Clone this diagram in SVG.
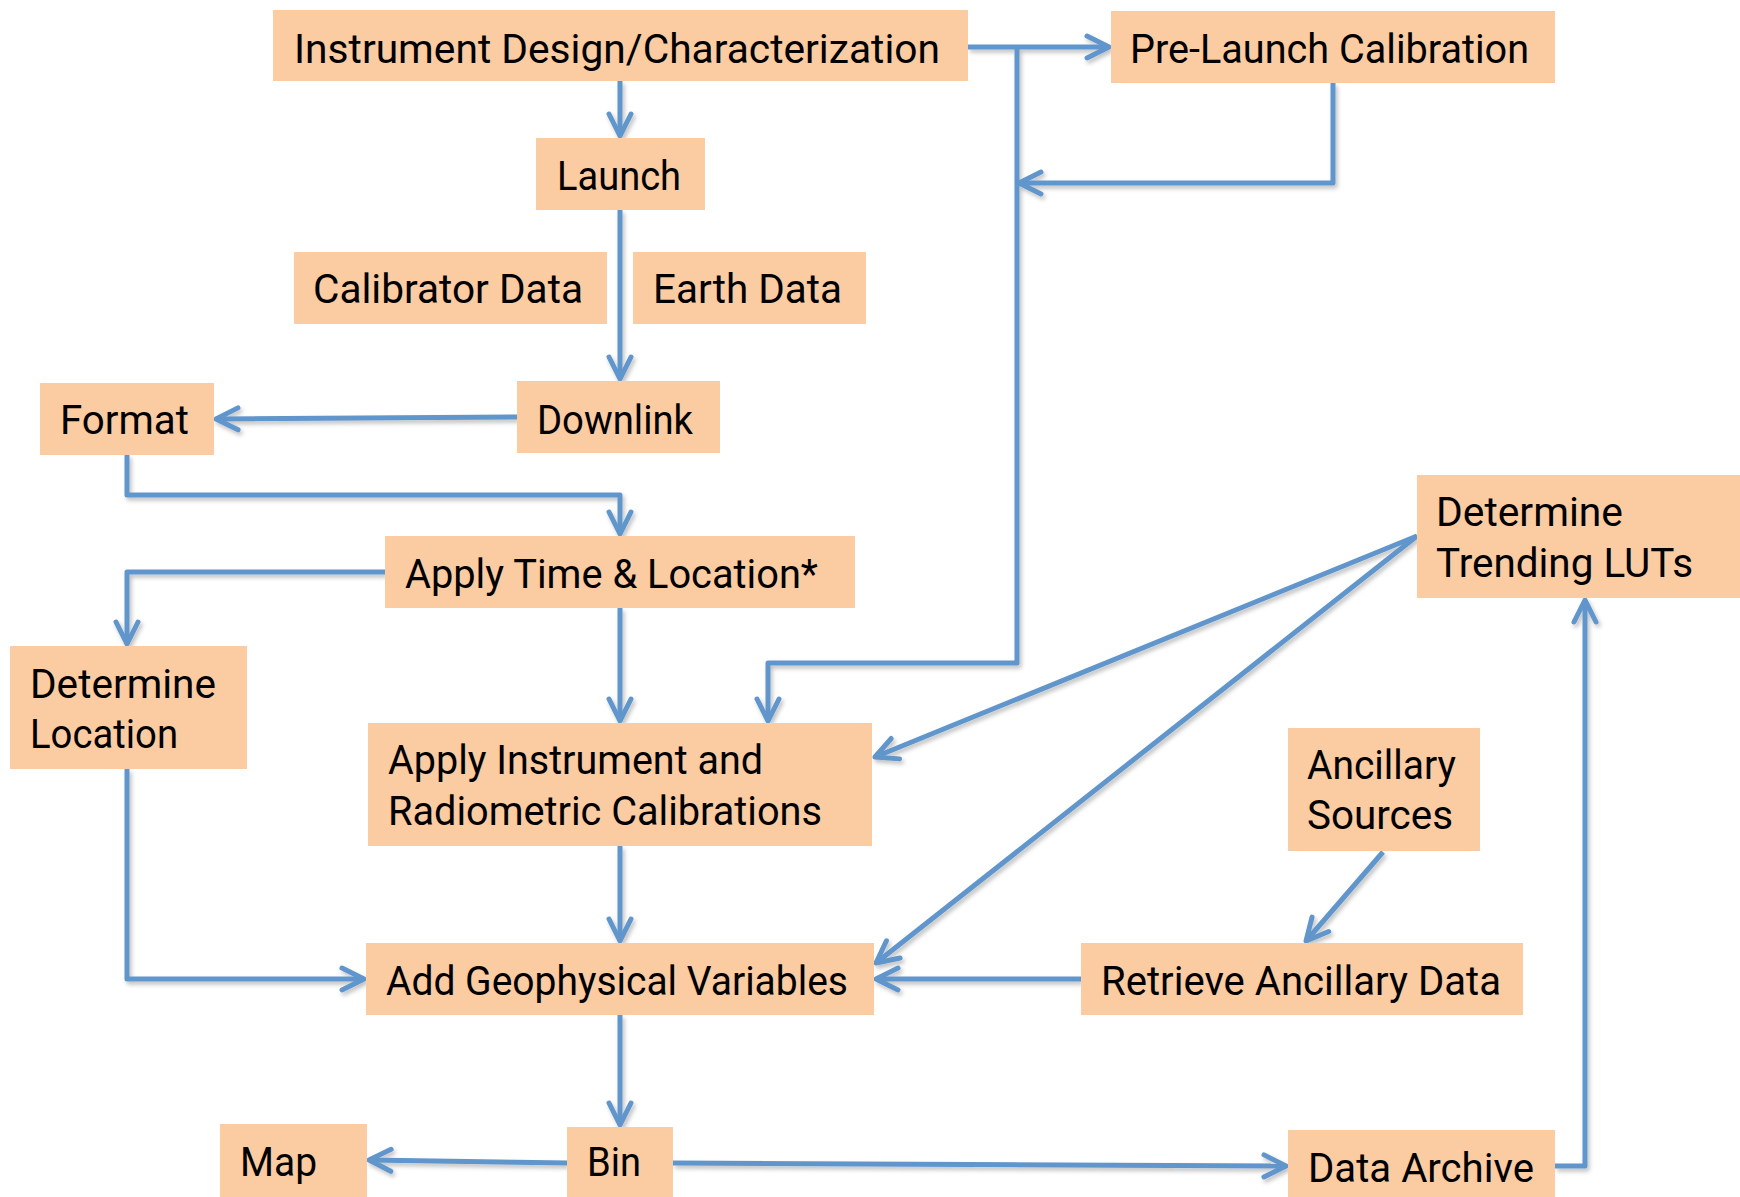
<svg xmlns="http://www.w3.org/2000/svg" width="1740" height="1197" viewBox="0 0 1740 1197">
<style>
.box{fill:#FBCBA2;}
.t{font-family:Roboto,"Liberation Sans",sans-serif;font-size:40px;fill:#000;}
.c{fill:none;stroke:#6196CB;stroke-width:5;stroke-linejoin:round;}
.a{marker-end:url(#arr);}
</style>
<defs>
<marker id="arr" markerUnits="userSpaceOnUse" markerWidth="40" markerHeight="40" viewBox="-30 -20 40 40" refX="0" refY="0" orient="auto">
<path d="M-22,-11 L0,0 L-22,11" fill="none" stroke="#6196CB" stroke-width="5" stroke-linecap="round" stroke-linejoin="round"/>
</marker>
<filter id="sh" x="-5%" y="-5%" width="110%" height="110%">
<feDropShadow dx="2" dy="3" stdDeviation="2" flood-color="#000" flood-opacity="0.25"/>
</filter>
</defs>
<rect width="1740" height="1197" fill="#fff"/>
<g id="connectors" filter="url(#sh)">
<path class="c a" d="M620,81 L620,136"/>
<path class="c a" d="M968,47 L1109,47"/>
<path class="c a" d="M1017,47 L1017,663 L768,663 L768,721"/>
<path class="c a" d="M1333,83 L1333,183 L1019,183"/>
<path class="c a" d="M620,210 L620,379"/>
<path class="c a" d="M517,417 L216,419"/>
<path class="c a" d="M127,455 L127,495 L620,495 L620,534"/>
<path class="c a" d="M385,572 L127,572 L127,644"/>
<path class="c a" d="M620,608 L620,721"/>
<path class="c a" d="M127,769 L127,979 L364,979"/>
<path class="c a" d="M620,846 L620,941"/>
<path class="c a" d="M1417,536 L875,757"/>
<path class="c a" d="M1417,536 L876,963"/>
<path class="c a" d="M1383,852 L1306,941"/>
<path class="c a" d="M1081,979 L876,979"/>
<path class="c a" d="M620,1015 L620,1125"/>
<path class="c a" d="M567,1163 L369,1160"/>
<path class="c a" d="M673,1163 L1286,1166"/>
<path class="c a" d="M1555,1166 L1585,1166 L1585,600"/>
</g>
<g id="n-instrument"><rect class="box" x="273" y="10" width="695" height="71"/><text class="t" x="294" y="63" textLength="646" lengthAdjust="spacingAndGlyphs">Instrument Design/Characterization</text></g>
<g id="n-prelaunch"><rect class="box" x="1111" y="11" width="444" height="72"/><text class="t" x="1130" y="63" textLength="399" lengthAdjust="spacingAndGlyphs">Pre-Launch Calibration</text></g>
<g id="n-launch"><rect class="box" x="536" y="138" width="169" height="72"/><text class="t" x="557" y="190" textLength="124" lengthAdjust="spacingAndGlyphs">Launch</text></g>
<g id="n-calibrator"><rect class="box" x="294" y="252" width="313" height="72"/><text class="t" x="313" y="303" textLength="270" lengthAdjust="spacingAndGlyphs">Calibrator Data</text></g>
<g id="n-earth"><rect class="box" x="633" y="252" width="233" height="72"/><text class="t" x="653" y="303" textLength="189" lengthAdjust="spacingAndGlyphs">Earth Data</text></g>
<g id="n-format"><rect class="box" x="40" y="383" width="174" height="72"/><text class="t" x="60" y="434" textLength="129" lengthAdjust="spacingAndGlyphs">Format</text></g>
<g id="n-downlink"><rect class="box" x="517" y="381" width="203" height="72"/><text class="t" x="537" y="434" textLength="156" lengthAdjust="spacingAndGlyphs">Downlink</text></g>
<g id="n-applytime"><rect class="box" x="385" y="536" width="470" height="72"/><text class="t" x="405" y="588" textLength="413" lengthAdjust="spacingAndGlyphs">Apply Time &amp; Location*</text></g>
<g id="n-detloc"><rect class="box" x="10" y="646" width="237" height="123"/><text class="t" x="30" y="698" textLength="186" lengthAdjust="spacingAndGlyphs">Determine</text><text class="t" x="30" y="748" textLength="148" lengthAdjust="spacingAndGlyphs">Location</text></g>
<g id="n-applyinst"><rect class="box" x="368" y="723" width="504" height="123"/><text class="t" x="388" y="774" textLength="375" lengthAdjust="spacingAndGlyphs">Apply Instrument and</text><text class="t" x="388" y="825" textLength="434" lengthAdjust="spacingAndGlyphs">Radiometric Calibrations</text></g>
<g id="n-trending"><rect class="box" x="1417" y="475" width="323" height="123"/><text class="t" x="1436" y="526" textLength="187" lengthAdjust="spacingAndGlyphs">Determine</text><text class="t" x="1436" y="577" textLength="257" lengthAdjust="spacingAndGlyphs">Trending LUTs</text></g>
<g id="n-ancsrc"><rect class="box" x="1288" y="728" width="192" height="123"/><text class="t" x="1307" y="779" textLength="149" lengthAdjust="spacingAndGlyphs">Ancillary</text><text class="t" x="1307" y="829" textLength="146" lengthAdjust="spacingAndGlyphs">Sources</text></g>
<g id="n-addgeo"><rect class="box" x="366" y="943" width="508" height="72"/><text class="t" x="386" y="995" textLength="462" lengthAdjust="spacingAndGlyphs">Add Geophysical Variables</text></g>
<g id="n-retrieve"><rect class="box" x="1081" y="943" width="442" height="72"/><text class="t" x="1101" y="995" textLength="400" lengthAdjust="spacingAndGlyphs">Retrieve Ancillary Data</text></g>
<g id="n-map"><rect class="box" x="220" y="1124" width="147" height="73"/><text class="t" x="240" y="1176" textLength="77" lengthAdjust="spacingAndGlyphs">Map</text></g>
<g id="n-bin"><rect class="box" x="567" y="1127" width="106" height="70"/><text class="t" x="587" y="1176" textLength="54" lengthAdjust="spacingAndGlyphs">Bin</text></g>
<g id="n-archive"><rect class="box" x="1288" y="1130" width="267" height="67"/><text class="t" x="1308" y="1182" textLength="226" lengthAdjust="spacingAndGlyphs">Data Archive</text></g>
</svg>
